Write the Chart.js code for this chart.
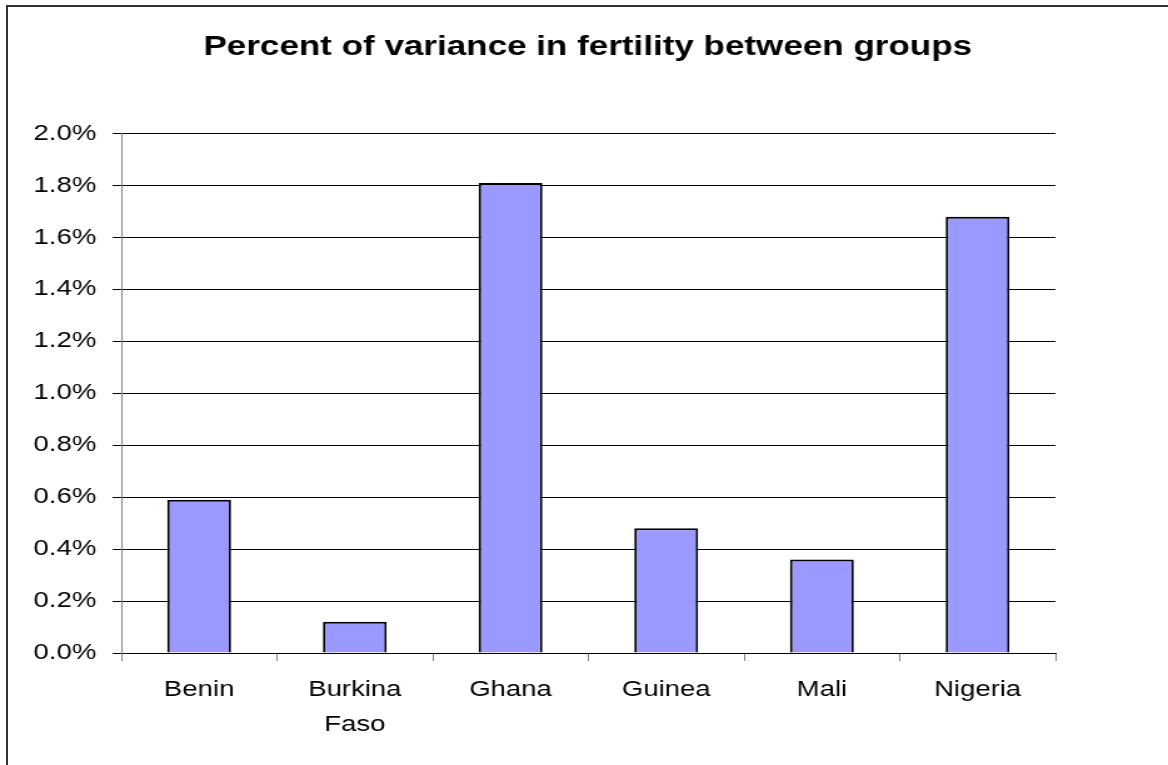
<!DOCTYPE html>
<html>
<head>
<meta charset="utf-8">
<title>Percent of variance in fertility between groups</title>
<script src="https://cdn.jsdelivr.net/npm/chart.js@4.4.1/dist/chart.umd.min.js"></script>
<style>
  html, body { margin: 0; padding: 0; background: #fff; overflow: hidden; }
  #frame {
    position: absolute; left: 6px; top: 5px; width: 1162px; height: 760px;
    border-left: 2px solid #333; border-top: 2px solid #333; box-sizing: border-box;
  }
  /* the chart is drawn narrow and widened, giving the broad lettering of the original */
  #stage {
    position: absolute; left: 0; top: 0; width: 934px; height: 765px;
    transform-origin: 0 0; transform: scaleX(1.2505);
  }
</style>
</head>
<body>
<div id="frame"></div>
<div id="stage"><canvas id="chart" width="934" height="765"></canvas></div>
<script>
// Between-group share of fertility variance, by country (percent)
const countries = ['Benin', ['Burkina', 'Faso'], 'Ghana', 'Guinea', 'Mali', 'Nigeria'];
const varianceBetweenGroups = [0.59, 0.12, 1.81, 0.48, 0.36, 1.68];
const yTickValues = [0.0, 0.2, 0.4, 0.6, 0.8, 1.0, 1.2, 1.4, 1.6, 1.8, 2.0];
const yTickLabels = ['0.0%', '0.2%', '0.4%', '0.6%', '0.8%', '1.0%', '1.2%', '1.4%', '1.6%', '1.8%', '2.0%'];

const FONT = '"Liberation Sans", Arial, Helvetica, sans-serif';

new Chart(document.getElementById('chart'), {
  type: 'bar',
  data: {
    labels: countries,
    datasets: [{
      data: varianceBetweenGroups,
      yAxisID: 'y',
      backgroundColor: '#9999FF',
      borderColor: '#000000',
      borderWidth: 2,
      barPercentage: 0.41,
      categoryPercentage: 1.0
    }]
  },
  options: {
    responsive: false,
    animation: false,
    devicePixelRatio: 1,
    layout: { padding: { left: 6, right: 0, top: 0, bottom: 0 } },
    plugins: {
      legend: { display: false },
      tooltip: { enabled: false },
      title: {
        display: true,
        text: 'Percent of variance in fertility between groups',
        color: '#000',
        font: { family: FONT, size: 28, weight: 'bold' },
        padding: { top: 30, bottom: 70 }
      }
    },
    scales: {
      x: {
        grid: {
          offset: true,
          drawOnChartArea: false,
          drawTicks: true,
          tickLength: 8,
          tickColor: '#808080',
          tickWidth: 1
        },
        border: { color: '#000', width: 1 },
        ticks: {
          color: '#000',
          font: { family: FONT, size: 22, lineHeight: 1.56 },
          padding: 12,
          maxRotation: 0,
          autoSkip: false
        },
        afterFit: (scale) => { scale.height = 112; }
      },
      y: {
        position: 'left',
        min: 0,
        max: 2.0,
        afterBuildTicks: (scale) => { scale.ticks = yTickValues.map(v => ({ value: v })); },
        grid: {
          color: '#000',
          lineWidth: 1,
          tickLength: 7,
          tickColor: '#000'
        },
        border: { color: '#808080', width: 1 },
        ticks: {
          color: '#000',
          font: { family: FONT, size: 22 },
          padding: 13,
          autoSkip: false,
          callback: (v) => yTickLabels[yTickValues.indexOf(v)] ?? ''
        },
        afterFit: (scale) => { scale.width = 91; }
      },
      // empty right-hand margin beside the plot
      margin: {
        position: 'right',
        min: 0,
        max: 2.0,
        grid: { display: false, drawOnChartArea: false },
        border: { display: false },
        ticks: { display: false },
        afterFit: (scale) => { scale.width = 90; }
      }
    }
  }
});
</script>
</body>
</html>
